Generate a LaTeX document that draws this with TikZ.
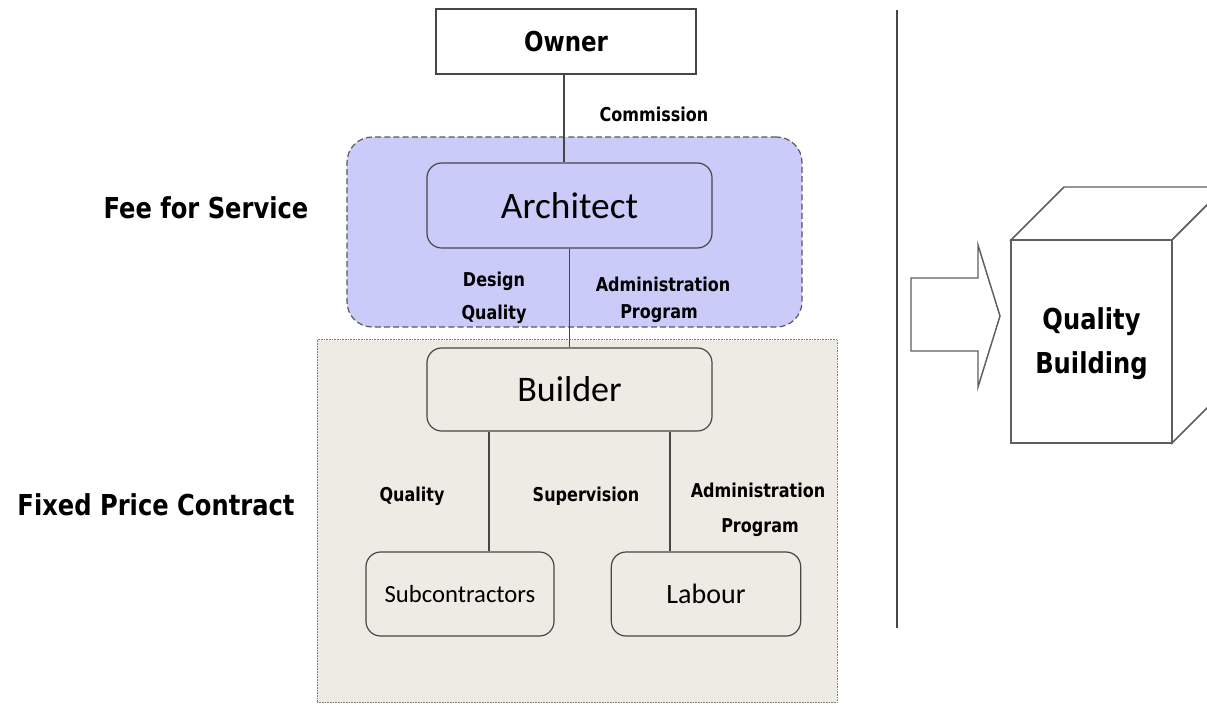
\documentclass[tikz,border=0pt]{standalone}
\usepackage{fontspec}
\setmainfont{Carlito}
\newfontfamily\labfont{DejaVu Sans}[FakeStretch=0.84]
\usetikzlibrary{calc}
\definecolor{bluefill}{RGB}{203,203,250}
\definecolor{grayfill}{RGB}{237,235,227}
\definecolor{edge}{RGB}{70,70,70}
\definecolor{cubeedge}{RGB}{95,95,95}
\tikzset{
  regionlabel/.style={font=\labfont\bfseries\fontsize{21.6}{25}\selectfont, inner sep=0pt, anchor=base},
  connlabel/.style={font=\labfont\bfseries\fontsize{14.3}{17}\selectfont, inner sep=0pt, anchor=base},
  rbox/.style={draw=edge, line width=0.9pt, rounded corners=11pt, inner sep=0pt},
  conn/.style={draw=edge, line width=0.9pt},
  cubeline/.style={draw=cubeedge, line width=1.1pt, line join=miter},
}
\begin{document}
\begin{tikzpicture}[x=0.75pt,y=-0.75pt]
\path[use as bounding box, clip] (0,0) rectangle (1207,704);
\fill[white] (0,0) rectangle (1207,704);

% regions
\node[draw=edge!90, line width=0.9pt, dash pattern=on 4.5pt off 2.4pt, fill=bluefill,
      rounded corners=19pt, minimum width=341.25pt, minimum height=142.5pt, inner sep=0pt]
      (fee) at (574.5,232) {};
\node[draw=gray, line width=0.6pt, dash pattern=on 0.6pt off 0.6pt, fill=grayfill,
      minimum width=390pt, minimum height=272.25pt, inner sep=0pt]
      (fixed) at (577,521) {};

% boxes
\node[draw=edge, line width=0.9pt, fill=white, minimum width=195pt, minimum height=48.75pt,
      inner sep=0pt, font=\labfont\bfseries\fontsize{20.5}{23}\selectfont]
      (owner) at (566,41.5) {Owner};
\node[rbox, fill=bluefill, minimum width=213.75pt, minimum height=63.75pt,
      font=\fontsize{28}{32}\selectfont] (arch) at (569.5,205.5) {Architect};
\node[rbox, fill=grayfill, minimum width=213.75pt, minimum height=62.25pt,
      font=\fontsize{27}{31}\selectfont] (builder) at (569.5,389.5) {Builder};
\node[rbox, fill=grayfill, minimum width=141pt, minimum height=63pt,
      font=\fontsize{18.5}{22}\selectfont] (sub) at (460,594) {Subcontractors};
\node[rbox, fill=grayfill, minimum width=142pt, minimum height=63pt,
      font=\fontsize{21}{25}\selectfont] (labour) at (706,594) {Labour};

% connectors
\coordinate (cA) at (564,0);
\coordinate (cB) at (489,0);
\coordinate (cC) at (670,0);
\draw[conn] (cA |- owner.south) -- (cA |- arch.north);
\draw[conn] (arch.south) -- (builder.north);
\draw[conn] (cB |- builder.south) -- (cB |- sub.north);
\draw[conn] (cC |- builder.south) -- (cC |- labour.north);

% connector labels
\node[connlabel] (lcomm) at (654,121) {Commission};
\node[connlabel] (ldes) at (494,286) {Design};
\node[connlabel] (lqua1) at (494,319) {Quality};
\node[connlabel] (ladm1) at (663,291) {Administration};
\node[connlabel] (lpro1) at (659,318) {Program};
\node[connlabel] (lqua2) at (412,501) {Quality};
\node[connlabel] (lsup) at (586,501) {Supervision};
\node[connlabel] (ladm2) at (758,497) {Administration};
\node[connlabel] (lpro2) at (760,532) {Program};

% region labels
\node[regionlabel] (lfee) at (206,218) {Fee for Service};
\node[regionlabel] (lfix) at (156,515) {Fixed Price Contract};

% divider
\coordinate (vtop) at (897,10);
\coordinate (vbot) at (897,628);
\draw[draw=edge, line width=1pt] (vtop) -- (vbot);

% arrow
\draw[cubeline, fill=white] (911,278) -- (978,278) -- (978,245) -- (1000,316)
      -- (978,387) -- (978,351) -- (911,351) -- cycle;

% cube
\draw[cubeline, fill=white] (1011,240) -- (1064,187) -- (1225,187) -- (1172,240) -- cycle;
\draw[cubeline, fill=white] (1172,240) -- (1225,187) -- (1225,390) -- (1172,443) -- cycle;
\node[cubeline, fill=white, minimum width=120.75pt, minimum height=152.25pt, inner sep=0pt]
      (bld) at (1091.5,341.5) {};
\node[regionlabel] (lq) at (1091.5,329) {Quality};
\node[regionlabel] (lb) at (1091.5,373) {Building};
\end{tikzpicture}
\end{document}
